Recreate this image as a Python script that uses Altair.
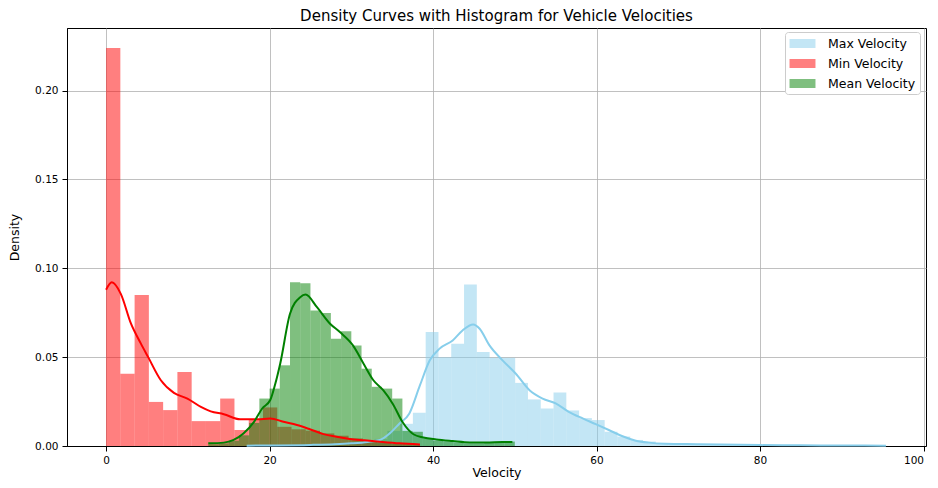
import altair as alt
import pandas as pd

# ---- data ----
series_names = ["Max Velocity", "Min Velocity", "Mean Velocity"]
series_colors = ["skyblue", "red", "green"]

# histogram bins (start, width, density per bin)
max_bin_start = 17.2
max_bin_width = 1.564
max_hist = [0.0003, 0.0003, 0.0005, 0.0005, 0.0006, 0.0008, 0.001, 0.0015, 0.002, 0.003,
            0.004, 0.0085, 0.0125, 0.0187, 0.0641, 0.05, 0.0576, 0.0909, 0.0529, 0.0497,
            0.0497, 0.0355, 0.0262, 0.0211, 0.0301, 0.02, 0.0157, 0.0146, 0.008, 0.0053,
            0.0034, 0.0025, 0.0015, 0.0012, 0.001, 0.0008, 0.0007, 0.0006, 0.0005, 0.0005,
            0.0004, 0.0004, 0.0004, 0.0003, 0.0003, 0.0003, 0.0003, 0.0003, 0.0003, 0.0003]

min_bin_start = 0.0
min_bin_width = 1.745
min_hist = [0.224, 0.0407, 0.085, 0.0248, 0.0202, 0.0417, 0.014, 0.014, 0.0267, 0.009,
            0.015, 0.0217, 0.0108, 0.0094, 0.0086, 0.0071, 0.0058, 0.0043, 0.003, 0.002,
            0.0012, 0.001]

mean_bin_start = 12.5
mean_bin_width = 1.25
mean_hist = [0.001, 0.0015, 0.003, 0.006, 0.013, 0.0267, 0.0323, 0.0454, 0.0921, 0.0916,
             0.0762, 0.0748, 0.0604, 0.0645, 0.0566, 0.0435, 0.0333, 0.0323, 0.0267, 0.0085,
             0.008, 0.0043, 0.003, 0.0025, 0.002, 0.0015, 0.0015, 0.002, 0.002, 0.0025]

# density curves
max_kde_x = [17.2, 20, 25, 28, 30, 32, 33.5, 34.7, 35.9, 37.1, 38.4, 39.6, 40.8, 42.4, 43.6,
             44.9, 45.7, 46.9, 48.5, 50.1, 51.8, 53.4, 55, 56.6, 58.3, 59.9, 61.5, 63.1,
             64.8, 66.4, 68.4, 72.3, 75, 80, 85, 90, 95.4]
max_kde_y = [0.0002, 0.0003, 0.0006, 0.001, 0.0015, 0.0023, 0.0034, 0.0071, 0.0127, 0.0183,
             0.0342, 0.0482, 0.0548, 0.0594, 0.065, 0.0684, 0.066, 0.0566, 0.0482, 0.0408,
             0.0314, 0.0267, 0.024, 0.0192, 0.0155, 0.0123, 0.009, 0.0056, 0.003, 0.0019,
             0.0013, 0.001, 0.0008, 0.0005, 0.0004, 0.0003, 0.0002]

min_kde_x = [0, 0.7, 1.8, 3.05, 4.26, 5.15, 6.7, 8.3, 9.95, 11.6, 12.8, 14.4, 16.4, 18.5,
             20.1, 21.7, 23.35, 25, 26.6, 28.2, 29.8, 31.6, 33.5, 35.9, 38.4]
min_kde_y = [0.0879, 0.0921, 0.0856, 0.0688, 0.0576, 0.05, 0.037, 0.0299, 0.0267, 0.022,
             0.0195, 0.0179, 0.015, 0.015, 0.0155, 0.0136, 0.0118, 0.0093, 0.0067, 0.0052,
             0.004, 0.0032, 0.0024, 0.0015, 0.0009]

mean_kde_x = [12.5, 14.4, 15.6, 16.8, 18.1, 19.1, 20.1, 20.7, 21.3, 22.5, 23.75, 24.4, 25.8,
              27.4, 28.6, 30.2, 31.5, 32.7, 33.9, 35.1, 36.3, 37.6, 38.8, 40.4, 42.4, 44.5,
              46.5, 48.5, 49.7]
mean_kde_y = [0.0015, 0.0019, 0.0034, 0.0071, 0.0136, 0.0211, 0.026, 0.035, 0.0463, 0.0744,
              0.0837, 0.0852, 0.0781, 0.0688, 0.0641, 0.0566, 0.0463, 0.037, 0.0314, 0.0235,
              0.0132, 0.0066, 0.0048, 0.0037, 0.0028, 0.002, 0.0019, 0.0022, 0.0022]

x_ticks = [0, 20, 40, 60, 80, 100]
y_ticks = [0.0, 0.05, 0.10, 0.15, 0.20]

# ---- build tables ----
hist_rows = []
for name, start, width, heights in [
    ("Max Velocity", max_bin_start, max_bin_width, max_hist),
    ("Min Velocity", min_bin_start, min_bin_width, min_hist),
    ("Mean Velocity", mean_bin_start, mean_bin_width, mean_hist),
]:
    for i, h in enumerate(heights):
        hist_rows.append({"series": name, "x0": start + i * width,
                          "x1": start + (i + 1) * width, "density": h, "base": 0.0})
hist_df = pd.DataFrame(hist_rows)

kde_rows = []
for name, xs, ys in [
    ("Max Velocity", max_kde_x, max_kde_y),
    ("Min Velocity", min_kde_x, min_kde_y),
    ("Mean Velocity", mean_kde_x, mean_kde_y),
]:
    for i, (xv, yv) in enumerate(zip(xs, ys)):
        kde_rows.append({"series": name, "x": xv, "density": yv, "i": i})
kde_df = pd.DataFrame(kde_rows)

FONT = "DejaVu Sans"
xscale = alt.Scale(domain=[-4.78, 100.3], nice=False, zero=False)
yscale = alt.Scale(domain=[0, 0.2352], nice=False)

xaxis = alt.Axis(values=x_ticks, format="d", title="Velocity", labelPadding=4,
                 titlePadding=1,
                 labelAlign={"expr": "datum.value == 100 ? 'right' : 'center'"})
yaxis = alt.Axis(values=y_ticks, format=".2f", title="Density", labelPadding=4,
                 titlePadding=13)

bars = alt.Chart(hist_df).mark_rect(opacity=0.5, strokeWidth=0).encode(
    x=alt.X("x0:Q", scale=xscale, axis=xaxis),
    x2="x1:Q",
    y=alt.Y("density:Q", scale=yscale, axis=yaxis),
    y2="base:Q",
    color=alt.Color(
        "series:N",
        scale=alt.Scale(domain=series_names, range=series_colors),
        sort=series_names,
        legend=alt.Legend(
            title=None, orient="none", legendX=718, legendY=4,
            symbolType="M-1.73,-0.6H1.73V0.6H-1.73Z", symbolSize=225,
            symbolOpacity=0.5, symbolStrokeWidth=0, symbolOffset=6,
            labelOffset=18, labelFontSize=12.5, labelFont=FONT, labelColor="black",
            rowPadding=6, padding=4, fillColor="white", strokeColor="#cccccc",
            cornerRadius=3,
        ),
    ),
)

lines = alt.Chart(kde_df).mark_line(strokeWidth=2, interpolate="monotone").encode(
    x=alt.X("x:Q", scale=xscale, axis=xaxis),
    y=alt.Y("density:Q", scale=yscale, axis=yaxis),
    color=alt.Color("series:N",
                    scale=alt.Scale(domain=series_names, range=series_colors),
                    legend=None),
    order="i:Q",
)

chart = alt.layer(bars, lines).resolve_scale(color="independent").properties(
    width=859,
    height=418,
    autosize=alt.AutoSizeParams(type="none"),
    padding={"left": 59, "top": 20, "right": 4, "bottom": 34},
    title=alt.TitleParams("Density Curves with Histogram for Vehicle Velocities",
                          font=FONT, fontSize=15, fontWeight="normal",
                          color="black", offset=4, anchor="middle"),
).configure_view(
    stroke="black", strokeWidth=1
).configure_axis(
    grid=True, gridColor="#b0b0b0", gridWidth=0.8,
    domainColor="black", domainWidth=1, tickColor="black", tickSize=5,
    labelFont=FONT, labelFontSize=10.5, labelColor="black",
    titleFont=FONT, titleFontSize=12.5, titleFontWeight="normal", titleColor="black",
)

chart.save("out.html", embed_options={"renderer": "svg", "actions": False})
